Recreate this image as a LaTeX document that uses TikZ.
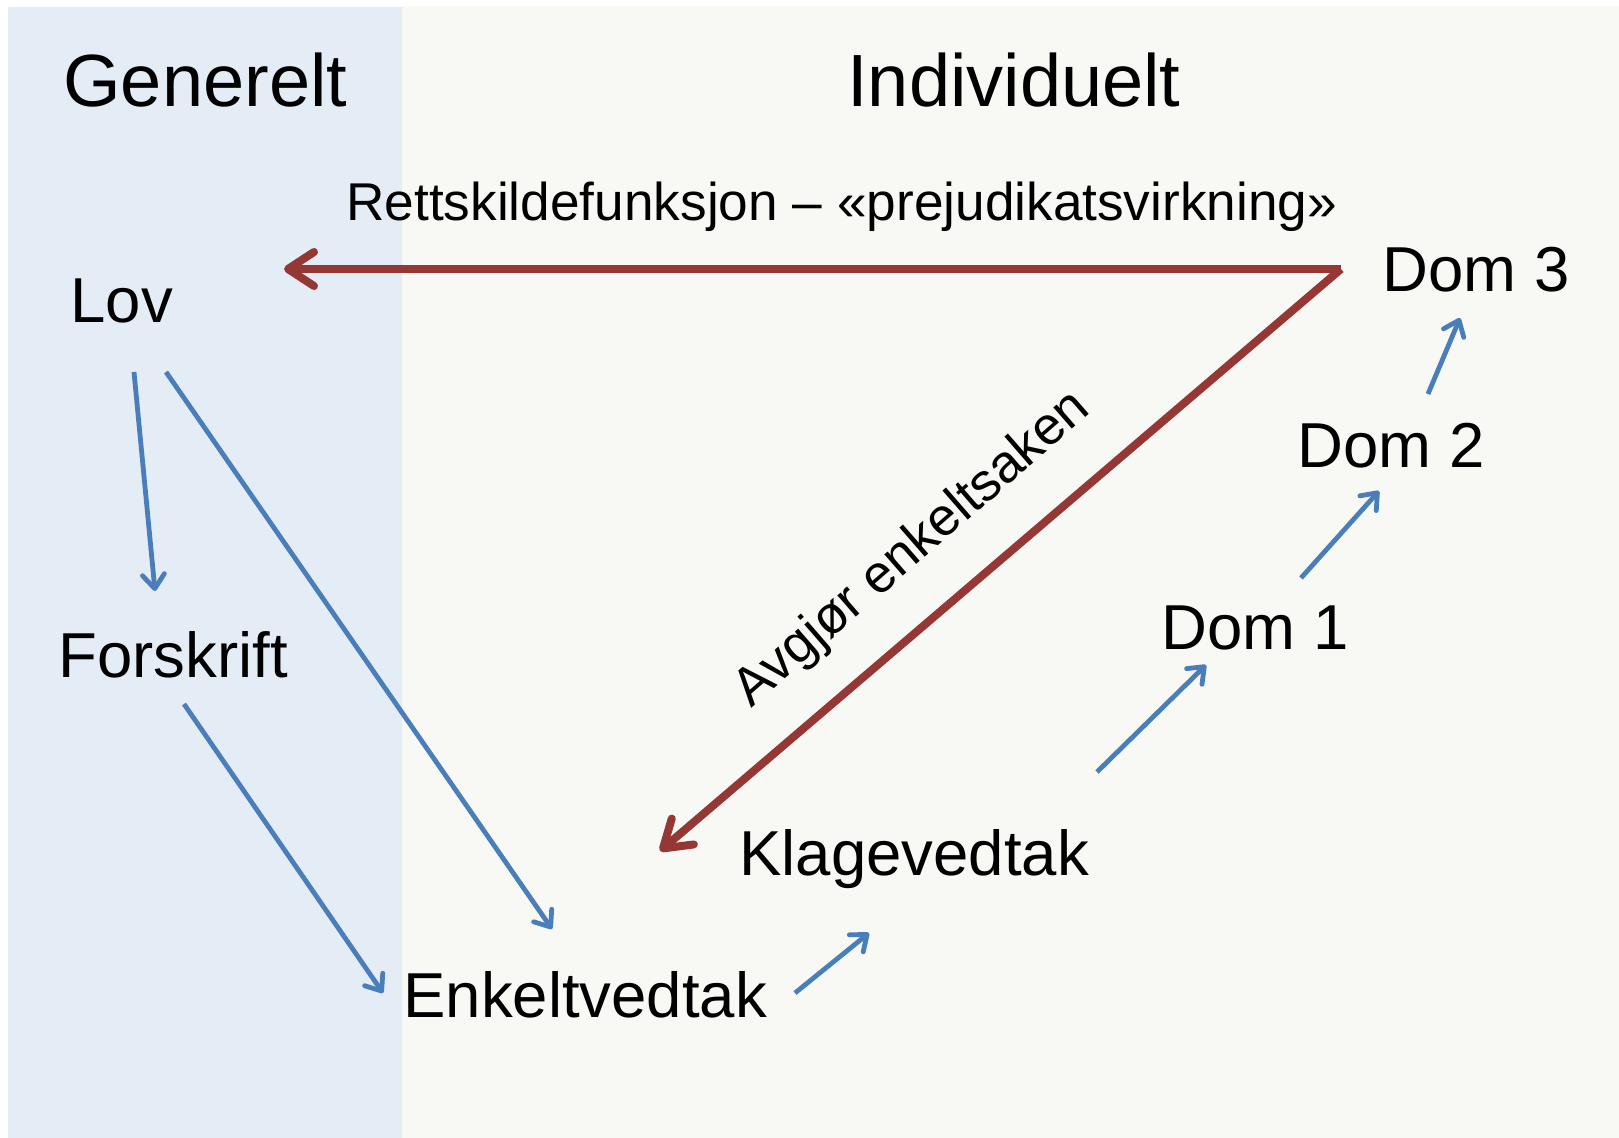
\documentclass[tikz,border=0pt]{standalone}
\usepackage{fontspec}
\setmainfont{Liberation Sans}
\usetikzlibrary{arrows.meta}
\definecolor{panelblue}{HTML}{E4ECF6}
\definecolor{panelgray}{HTML}{F8F9F5}
\definecolor{arrred}{HTML}{953735}
\definecolor{arrblue}{HTML}{4A7EBB}
\begin{document}
\begin{tikzpicture}[x=0.5pt,y=-0.5pt,
  lbl/.style={inner sep=0pt, anchor=base west, font=\fontsize{31.75}{36}\selectfont},
  headlbl/.style={inner sep=0pt, anchor=base west, font=\fontsize{37}{42}\selectfont},
  notelbl/.style={inner sep=0pt, font=\fontsize{26.6}{30}\selectfont},
  redarrow/.style={draw=arrred, line width=4pt, -{Straight Barb[length=13pt,width=17pt,round]}},
  bluearrow/.style={draw=arrblue, line width=2.4pt, -{Straight Barb[length=7pt,width=11pt,round]}}]
\useasboundingbox (0,0) rectangle (1619,1138);
\fill[panelgray] (402,6) rectangle (1619,1138);
\fill[panelblue] (8,7) rectangle (402,1138);

% headings
\node[headlbl] (gen) at (63,107) {Generelt};
\node[headlbl] (ind) at (847,107) {Individuelt};

% labels
\node[lbl] (lov) at (70,323) {Lov};
\node[lbl] (forskrift) at (58,678) {Forskrift};
\node[lbl] (enkelt) at (403,1018) {Enkeltvedtak};
\node[lbl] (klage) at (739,876) {Klagevedtak};
\node[lbl] (dom1) at (1161,650) {Dom 1};
\node[lbl] (dom2) at (1297,468) {Dom 2};
\node[lbl] (dom3) at (1382,292) {Dom 3};

\node[notelbl, anchor=base west] (rett) at (346,221) {Rettskildefunksjon – «prejudikatsvirkning»};
\node[notelbl, anchor=base, rotate=41] (avgjor) at (922,560) {Avgjør enkeltsaken};

% connector end points
\coordinate (corner) at (1341,269);
\coordinate (lovtip) at (284,269);
\coordinate (klagetip) at (660,851);

\coordinate (lovA) at (134,372);
\coordinate (forA) at (155,591);
\coordinate (lovB) at (166,372);
\coordinate (enkB) at (552,929);
\coordinate (forC) at (184,704);
\coordinate (enkC) at (383,993);
\coordinate (enkD) at (795,993);
\coordinate (klaD) at (869,933);
\coordinate (klaE) at (1097,772);
\coordinate (domE) at (1206,665);
\coordinate (domF1) at (1301,578);
\coordinate (domF2) at (1379,491);
\coordinate (domG1) at (1428,394);
\coordinate (domG2) at (1460,318);

% red arrows
\draw[redarrow] (corner) -- (lovtip);
\draw[redarrow] (corner) -- (klagetip);

% blue arrows
\draw[bluearrow] (lovA) -- (forA);
\draw[bluearrow] (lovB) -- (enkB);
\draw[bluearrow] (forC) -- (enkC);
\draw[bluearrow] (enkD) -- (klaD);
\draw[bluearrow] (klaE) -- (domE);
\draw[bluearrow] (domF1) -- (domF2);
\draw[bluearrow] (domG1) -- (domG2);
\end{tikzpicture}
\end{document}
